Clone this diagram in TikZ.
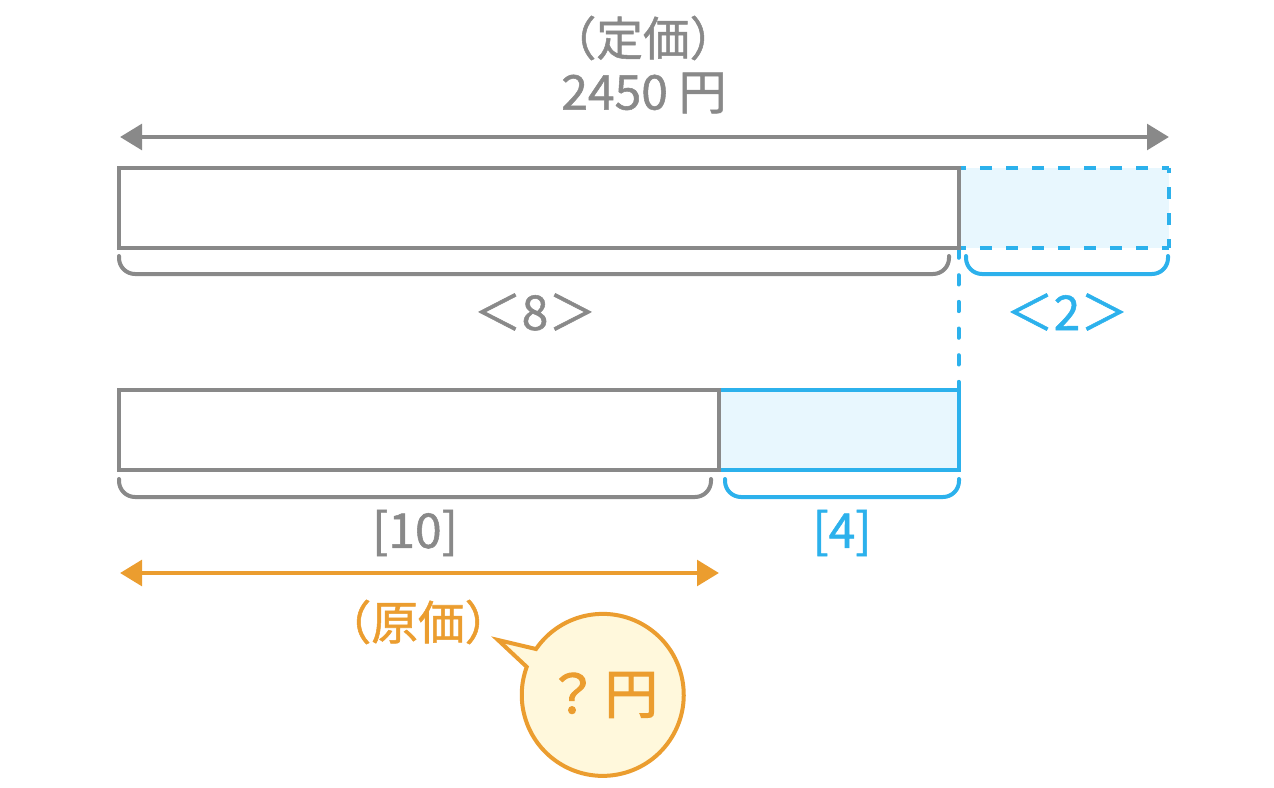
\documentclass[tikz,border=0pt]{standalone}
\usepackage{fontspec}
\setmainfont[FakeBold=1.1]{Noto Sans CJK JP}
\newfontfamily\heavyjp[FakeBold=2]{Noto Sans CJK JP}
\usetikzlibrary{arrows.meta}
\definecolor{grayc}{HTML}{898989}
\definecolor{bluec}{HTML}{2CB1EC}
\definecolor{bluef}{HTML}{E8F7FE}
\definecolor{orangec}{HTML}{EB9D2F}
\definecolor{creamf}{HTML}{FFF8DC}
\tikzset{
  every node/.style={inner sep=0pt,outer sep=0pt},
  barg/.style={draw=grayc,line width=3pt,fill=white},
  barb/.style={draw=bluec,line width=3pt,fill=bluef},
  bracket/.style={line width=3pt,rounded corners=12pt,line cap=round},
  dim/.style={line width=3.5pt,{Triangle[length=16.5pt,width=19pt]}-{Triangle[length=16.5pt,width=19pt]}},
  lab/.style={font=\fontsize{36pt}{42pt}\selectfont,align=center},
  labp/.style={font=\fontsize{35pt}{42pt}\selectfont,align=center},
  dashb/.style={draw=bluec,line width=3.4pt,dash pattern=on 9pt off 10.5pt}
}
\begin{document}
\begin{tikzpicture}[x=0.75pt,y=-0.75pt]
\useasboundingbox (0,0) rectangle (1274,788);
% top dashed bar
\fill[bluef] (959,168) rectangle (1169,248);
\coordinate (dA) at (959,168);
\coordinate (dB) at (1169,168);
\coordinate (dC) at (1169,248);
\coordinate (dD) at (959,248);
\draw[dashb,dash phase=3.75pt] (dA) -- (dB);
\draw[dashb,dash phase=3.75pt] (dD) -- (dC);
\draw[dashb,dash phase=5pt] (dB) -- (dC);
% vertical dashed
\coordinate (vT) at (958.5,248.5);
\coordinate (vB) at (958.5,392);
\draw[draw=bluec,line width=3pt,dash pattern=on 7pt off 13pt,line cap=round] (vT) -- (vB);
% solid bars
\node[barb,minimum width=180pt,minimum height=60pt,anchor=north west] (b4) at (719,390) {};
\node[barg,minimum width=450pt,minimum height=60pt,anchor=north west] (b10) at (119,390) {};
\node[barg,minimum width=630pt,minimum height=60pt,anchor=north west] (b8) at (119,168) {};
% brackets
\coordinate (g1a) at (119,256); \coordinate (g1b) at (949,256);
\draw[bracket,draw=grayc] (g1a) -- (119,274) -- (949,274) -- (g1b);
\coordinate (b1a) at (966,256); \coordinate (b1b) at (1168,256);
\draw[bracket,draw=bluec] (b1a) -- (966,274) -- (1168,274) -- (b1b);
\coordinate (g2a) at (119,479); \coordinate (g2b) at (711,479);
\draw[bracket,draw=grayc] (g2a) -- (119,497) -- (711,497) -- (g2b);
\coordinate (b2a) at (725,479); \coordinate (b2b) at (959,479);
\draw[bracket,draw=bluec] (b2a) -- (725,497) -- (959,497) -- (b2b);
% dimension arrows
\coordinate (tL) at (120,137); \coordinate (tR) at (1169,137);
\draw[dim,draw=grayc,fill=grayc] (tL) -- (tR);
\coordinate (oL) at (120,573); \coordinate (oR) at (719,573);
\draw[dim,draw=orangec,fill=orangec] (oL) -- (oR);
% labels
\node[labp,text=grayc] (t1) at (643,38) {（定価）};
\node[lab,text=grayc] (t2) at (644,93) {2450 円};
\node[lab,text=grayc] (t8) at (535,312) {＜8＞};
\node[lab,text=bluec] (t22) at (1067,312) {＜2＞};
\node[lab,text=grayc] (t10) at (415,533) {[10]};
\node[lab,text=bluec] (t4) at (842,533) {[4]};
\node[labp,text=orangec] (tg) at (418,622) {（原価）};
% balloon
\coordinate (tip) at (498,640);
\draw[draw=orangec,line width=3pt,fill=creamf,line join=miter]
  (tip) -- (536,649) arc[start angle=214.5,end angle=560.2,radius=81] -- cycle;
\node[font=\heavyjp\fontsize{40pt}{46pt}\selectfont,text=orangec] (q) at (602,695) {？\kern4pt 円};
\end{tikzpicture}
\end{document}
